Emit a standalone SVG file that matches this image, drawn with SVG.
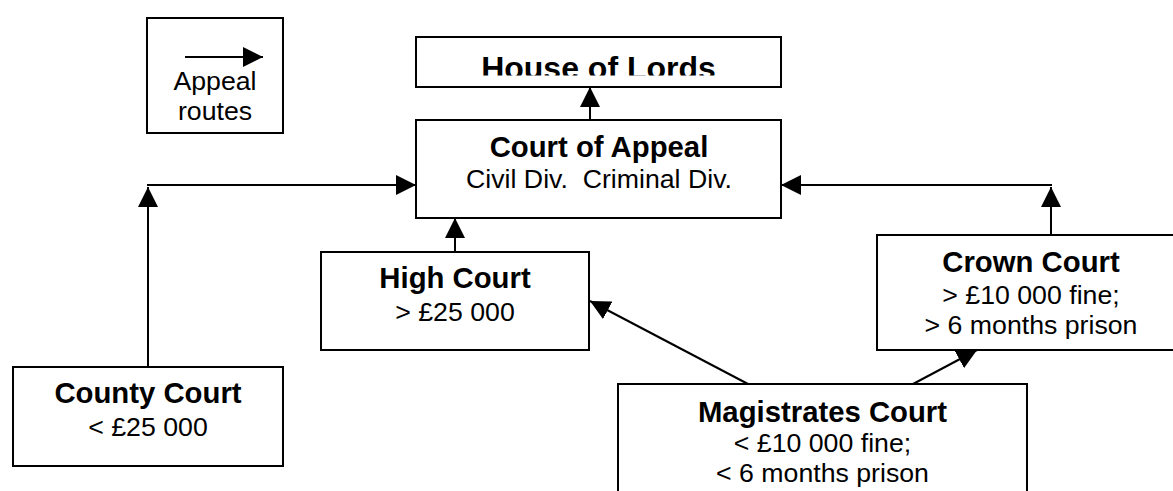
<svg xmlns="http://www.w3.org/2000/svg" width="1173" height="491" viewBox="0 0 1173 491">
<style>
.box{fill:#fff;stroke:#000;stroke-width:2}
.b{font-family:"Liberation Sans",Arial,sans-serif;font-weight:bold;font-size:29.3px;text-anchor:middle;fill:#000}
.r{font-family:"Liberation Sans",Arial,sans-serif;font-size:26.7px;text-anchor:middle;fill:#000}
.c{fill:none;stroke:#000;stroke-width:2}
</style>
<defs>
<marker id="ah" markerUnits="userSpaceOnUse" markerWidth="20" markerHeight="20" refX="20" refY="10" orient="auto" viewBox="0 0 20 20">
<path d="M0,0 L20,10 L0,20 z" fill="#000"/>
</marker>
<clipPath id="hlclip"><rect x="416" y="37" width="365" height="38.5"/></clipPath>
</defs>
<rect width="1173" height="491" fill="#fff"/>
<g id="legend">
<rect class="box" x="147" y="18" width="136" height="115"/>
<path class="c" d="M185,57 H263" marker-end="url(#ah)"/>
<text class="r" x="215" y="90">Appeal</text>
<text class="r" x="215" y="120">routes</text>
</g>
<g id="house-of-lords">
<rect class="box" x="416" y="37" width="365" height="50"/>
<text class="b" x="598.5" y="79" style="font-size:32px" clip-path="url(#hlclip)">House of Lords</text>
</g>
<g id="court-of-appeal">
<rect class="box" x="416" y="120" width="365" height="98"/>
<text class="b" x="599" y="157">Court of Appeal</text>
<text class="r" x="599" y="188" xml:space="preserve">Civil Div.  Criminal Div.</text>
</g>
<g id="high-court">
<rect class="box" x="321" y="252" width="268" height="98"/>
<text class="b" x="455" y="288">High Court</text>
<text class="r" x="455" y="321">&gt; £25 000</text>
</g>
<g id="county-court">
<rect class="box" x="13" y="367" width="270" height="99"/>
<text class="b" x="148" y="403">County Court</text>
<text class="r" x="148" y="436">&lt; £25 000</text>
</g>
<g id="crown-court">
<rect class="box" x="877" y="235" width="308" height="115"/>
<text class="b" x="1031" y="272">Crown Court</text>
<text class="r" x="1031" y="304">&gt; £10 000 fine;</text>
<text class="r" x="1031" y="334">&gt; 6 months prison</text>
</g>
<g id="magistrates-court">
<rect class="box" x="618" y="384" width="409" height="140"/>
<text class="b" x="822.5" y="422">Magistrates Court</text>
<text class="r" x="822.5" y="452">&lt; £10 000 fine;</text>
<text class="r" x="822.5" y="482">&lt; 6 months prison</text>
</g>
<g id="connectors">
<path class="c" d="M590,120 V87" marker-end="url(#ah)"/>
<path class="c" d="M455,252 V218" marker-end="url(#ah)"/>
<path class="c" d="M148,367 V187" marker-end="url(#ah)"/>
<path class="c" d="M147,185 H416" marker-end="url(#ah)"/>
<path class="c" d="M1051,235 V187" marker-end="url(#ah)"/>
<path class="c" d="M1052,185 H781" marker-end="url(#ah)"/>
<path class="c" d="M748,384 L590,301" marker-end="url(#ah)"/>
<path class="c" d="M913,384 L977,350" marker-end="url(#ah)"/>
</g>
</svg>
